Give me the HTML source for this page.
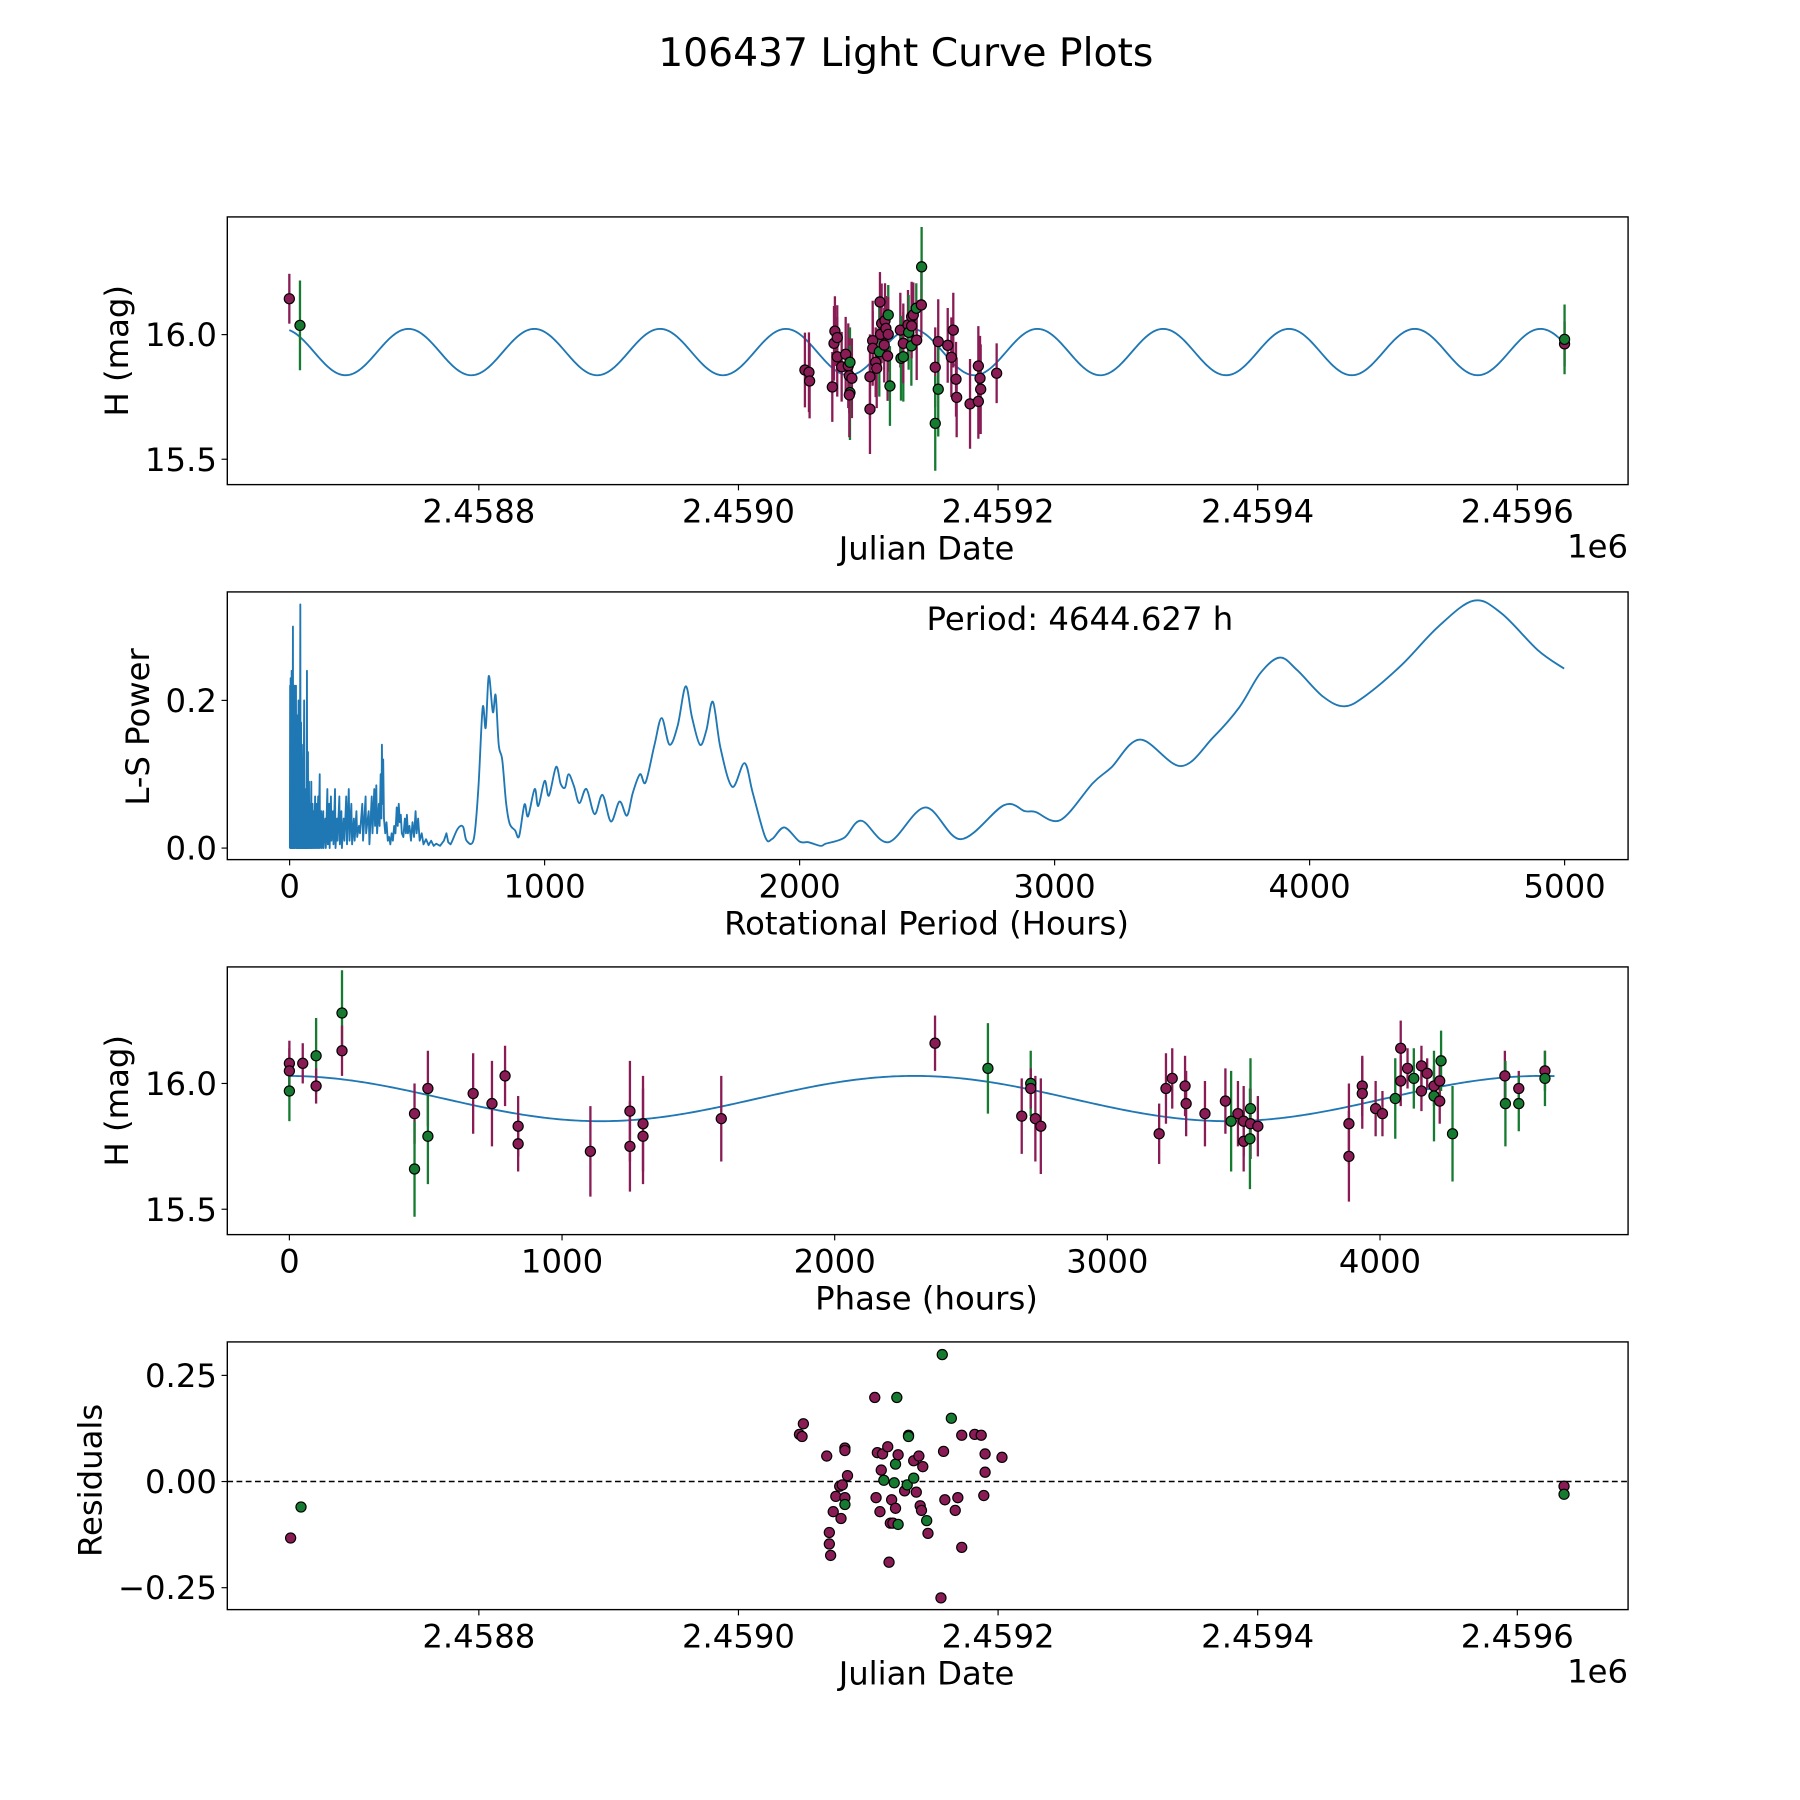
<!DOCTYPE html>
<html><head><meta charset="utf-8"><style>
html,body{margin:0;padding:0;background:#fff;}
svg{display:block;font-family:"DejaVu Sans","Liberation Sans",sans-serif;}
</style></head><body>
<svg id="fig" width="1800" height="1800" viewBox="0 0 1560 1560" xmlns="http://www.w3.org/2000/svg">
<rect x="0" y="0" width="1560" height="1560" fill="#fff"/>
<text x="785" y="57" font-size="34" text-anchor="middle">106437 Light Curve Plots</text>
</svg>
<script>
// ---------- DATA ----------
const lcJd = [-346,-337.8,51.2,54.3,54.8,72.3,74.3,73.6,76.1,76.1,79.5,82.6,84.6,85.9,85.4,87.4,85.9,85.4,101.3,101.3,103.4,103.4,105.7,106.5,109.0,108.5,110.3,109.5,112.9,113.6,112.3,115.4,115.4,114.9,116.7,124.7,125.2,127.0,127.0,130.6,131.1,133.2,133.4,133.4,134.7,137.0,137.3,140.9,141.1,151.6,153.9,153.9,151.6,161.2,164.0,165.5,167.6,168.1,178.4,184.8,186.1,186.6,184.8,198.9,636.4,636.4];
const lcMag = [16.144,16.037,15.858,15.849,15.814,15.790,16.014,15.965,15.988,15.911,15.871,15.921,15.875,15.889,15.835,15.825,15.767,15.758,15.831,15.701,15.976,15.945,15.889,15.865,16.131,15.931,16.045,16.001,16.056,16.025,15.958,16.079,16.001,15.914,15.794,16.018,15.905,15.911,15.965,16.039,16.009,15.955,16.072,16.035,16.079,16.106,15.978,16.119,16.272,15.869,15.972,15.781,15.644,15.957,15.909,16.018,15.821,15.748,15.722,15.874,15.825,15.781,15.732,15.845,15.963,15.981];
const lcErr = [0.10,0.18,0.15,0.16,0.15,0.14,0.14,0.15,0.13,0.16,0.14,0.15,0.17,0.14,0.15,0.16,0.19,0.17,0.17,0.18,0.16,0.15,0.14,0.16,0.12,0.18,0.16,0.14,0.15,0.13,0.15,0.12,0.15,0.18,0.16,0.15,0.17,0.18,0.16,0.14,0.15,0.16,0.14,0.13,0.13,0.10,0.16,0.13,0.16,0.16,0.17,0.19,0.19,0.15,0.16,0.15,0.15,0.16,0.18,0.16,0.17,0.18,0.15,0.12,0.09,0.14];
const lcBand = ['m','g','m','m','m','m','m','m','m','m','m','m','m','g','m','m','g','m','m','m','m','m','m','m','m','g','m','m','m','m','m','g','m','m','g','m','g','g','m','m','g','g','m','m','m','g','m','m','g','m','m','g','g','m','m','m','m','m','m','m','m','m','m','m','m','g'];

const phPhase = [0,0,0,49,98,98,193,193,459,459,508,508,674,743,791,839,839,1104,1249,1249,1297,1297,1584,2368,2562,2719,2719,2686,2736,2756,3190,3215,3238,3285,3289,3358,3433,3454,3479,3500,3500,3525,3525,3523,3552,3886,3886,3935,3935,3984,4009,4056,4076,4076,4101,4124,4152,4152,4173,4198,4198,4219,4219,4224,4266,4458,4460,4509,4509,4605,4605];
const phMag = [16.08,16.05,15.97,16.08,16.11,15.99,16.28,16.13,15.88,15.66,15.98,15.79,15.96,15.92,16.03,15.83,15.76,15.73,15.89,15.75,15.84,15.79,15.86,16.16,16.06,16.0,15.98,15.87,15.86,15.83,15.80,15.98,16.02,15.99,15.92,15.88,15.93,15.85,15.88,15.85,15.77,15.90,15.84,15.78,15.83,15.84,15.71,15.99,15.96,15.90,15.88,15.94,16.14,16.01,16.06,16.02,16.07,15.97,16.04,15.99,15.95,16.01,15.93,16.09,15.80,16.03,15.92,15.98,15.92,16.05,16.02];
const phErr = [0.09,0.09,0.12,0.08,0.15,0.07,0.17,0.10,0.12,0.19,0.15,0.19,0.16,0.17,0.12,0.12,0.11,0.18,0.20,0.18,0.19,0.19,0.17,0.11,0.18,0.13,0.08,0.15,0.17,0.19,0.12,0.14,0.12,0.12,0.13,0.13,0.13,0.20,0.13,0.14,0.12,0.20,0.14,0.20,0.12,0.16,0.18,0.12,0.14,0.11,0.09,0.16,0.11,0.10,0.08,0.12,0.08,0.08,0.06,0.08,0.18,0.08,0.09,0.12,0.19,0.10,0.17,0.07,0.11,0.08,0.11];
const phBand = ['m','m','g','m','g','m','g','m','m','g','m','g','m','m','m','m','m','m','m','m','m','m','m','m','g','g','m','m','m','m','m','m','m','m','m','m','m','g','m','m','m','g','m','g','m','m','m','m','m','m','m','g','m','m','m','g','m','m','m','m','g','m','m','g','g','m','g','m','g','m','g'];

const resJd = [-345,-337,47,49,50,68,70,70,71,73,75,78,79,80,82,82,82,82,84,105,106,107,109,110,111,112,115,116,117,118,119,120,121,121,123,122,123,128,130,131,131,135,135,137,139,140,141,142,145,146,156,157,158,159,164,167,169,172,172,182,187,189,190,190,203,636,636];
const resVal = [-0.133,-0.060,0.111,0.106,0.136,0.060,-0.120,-0.147,-0.174,-0.071,-0.035,-0.011,-0.087,-0.008,0.079,0.073,-0.038,-0.054,0.014,0.198,-0.038,0.068,-0.071,0.027,0.065,0.003,0.082,-0.190,-0.098,-0.043,-0.098,-0.003,0.041,-0.063,0.063,0.198,-0.101,-0.022,-0.008,0.109,0.106,0.049,0.008,-0.025,0.060,-0.057,-0.068,0.035,-0.092,-0.122,-0.274,0.299,0.071,-0.043,0.149,-0.068,-0.038,-0.155,0.109,0.111,0.109,-0.033,0.065,0.022,0.057,-0.011,-0.030];
const resBand = ['m','g','m','m','m','m','m','m','m','m','m','m','m','m','m','m','m','g','m','m','m','m','m','m','m','g','m','m','m','m','m','g','g','m','m','g','g','m','g','m','g','m','g','m','m','m','m','m','g','m','m','g','m','m','g','m','m','m','m','m','m','m','m','m','m','m','g'];

const pgPeriod = [1,2,3,4,5,6,7,8,9,10,11,13,14,16,17,19,20,22,23,25,26,28,29,31,32,35,36,39,40,42,43,45,46,49,50,53,54,57,58,61,62,65,66,68,69,72,73,76,77,81,82,85,86,90,91,95,96,100,101,106,107,112,113,118,119,124,126,132,133,140,142,148,150,155,157,162,164,170,172,178,180,186,188,195,197,203,205,212,215,222,225,232,235,242,245,252,255,262,265,272,276,285,288,298,300,310,313,322,325,332,335,340,343,350,353,357,360,362,364,367,370,375,380,385,390,395,400,405,410,415,420,424,428,432,436,440,446,452,456,460,464,470,476,482,488,494,498,504,510,518,525,535,545,555,565,575,590,605,615,622,631,659,680,694,722,740,757,769,781,797,808,820,834,849,863,884,900,921,935,961,975,1000,1017,1045,1063,1080,1094,1115,1136,1164,1196,1227,1260,1294,1323,1346,1374,1396,1431,1459,1490,1522,1553,1578,1609,1634,1660,1690,1736,1784,1816,1865,1893,1940,1999,2034,2083,2103,2175,2242,2349,2493,2632,2801,2883,2924,3023,3150,3222,3335,3495,3622,3725,3807,3883,3951,4053,4136,4218,4361,4505,4643,4752,4895,4998];
const pgPower = [0.0,0.22,0.0,0.23,0.0,0.21,0.0,0.24,0.01,0.16,0.0,0.30,0.0,0.20,0.0,0.22,0.0,0.15,0.01,0.22,0.0,0.18,0.0,0.12,0.0,0.20,0.0,0.10,0.0,0.33,0.0,0.17,0.0,0.12,0.0,0.14,0.0,0.20,0.0,0.08,0.0,0.08,0.0,0.24,0.0,0.13,0.0,0.09,0.0,0.06,0.0,0.09,0.0,0.06,0.0,0.05,0.0,0.07,0.0,0.06,0.0,0.07,0.0,0.10,0.0,0.05,0.0,0.05,0.0,0.04,0.0,0.08,0.005,0.06,0.0,0.07,0.01,0.05,0.005,0.08,0.0,0.04,0.01,0.07,0.005,0.05,0.0,0.04,0.01,0.07,0.005,0.08,0.01,0.06,0.005,0.04,0.01,0.05,0.015,0.03,0.02,0.06,0.01,0.07,0.02,0.05,0.005,0.07,0.02,0.08,0.03,0.085,0.02,0.06,0.03,0.10,0.04,0.14,0.06,0.12,0.04,0.02,0.035,0.01,0.015,0.005,0.02,0.01,0.03,0.02,0.055,0.03,0.06,0.035,0.045,0.02,0.015,0.04,0.02,0.045,0.02,0.03,0.01,0.035,0.015,0.05,0.02,0.04,0.01,0.02,0.005,0.012,0.004,0.01,0.003,0.006,0.003,0.01,0.02,0.008,0.005,0.026,0.029,0.01,0.012,0.08,0.19,0.163,0.233,0.184,0.207,0.14,0.119,0.061,0.033,0.024,0.016,0.059,0.043,0.08,0.057,0.091,0.071,0.11,0.087,0.082,0.10,0.084,0.061,0.08,0.046,0.072,0.036,0.063,0.044,0.075,0.10,0.089,0.14,0.176,0.14,0.166,0.219,0.177,0.14,0.159,0.198,0.135,0.083,0.115,0.075,0.015,0.0125,0.028,0.009,0.008,0.003,0.006,0.014,0.037,0.008,0.055,0.012,0.058,0.05,0.049,0.038,0.088,0.109,0.147,0.111,0.15,0.191,0.237,0.258,0.241,0.205,0.192,0.206,0.248,0.300,0.335,0.318,0.268,0.243];

const jdTicks = [2458800,2459000,2459200,2459400,2459600];
const jdTickLabels = ['2.4588','2.4590','2.4592','2.4594','2.4596'];
const magTicks = [16.0,15.5];
const magTickLabels = ['16.0','15.5'];
const perTicks = [0,1000,2000,3000,4000,5000];
const powTicks = [0.0,0.2];
const powTickLabels = ['0.0','0.2'];
const phTicks = [0,1000,2000,3000,4000];
const resTicks = [0.25,0.0,-0.25];
const resTickLabels = ['0.25','0.00','\u22120.25'];

// ---------- DRAW ----------
const NS='http://www.w3.org/2000/svg';
const svg=document.getElementById('fig');
const COL={m:'#8a1c55',g:'#167a30'};
const FS=28;
function mk(tag,attrs,parent){const e=document.createElementNS(NS,tag);for(const k in attrs)e.setAttribute(k,attrs[k]);(parent||svg).appendChild(e);return e;}
const L=197,R=1411;
function lin(d0,d1,p0,p1){return v=>p0+(v-d0)*(p1-p0)/(d1-d0);}
const xJd=lin(2459000,2459200,640,865);

function frame(top,name){
  const g=mk('g',{});
  
  
  const r=mk('rect',{x:L,y:top,width:R-L,height:232,fill:'none',stroke:'#000','stroke-width':1.2},g);
  
  
  return g;
}
function xticks(g,ticks,labels,sx,bottom,name){
  ticks.forEach((t,i)=>{
    const x=sx(t);
    mk('line',{x1:x,x2:x,y1:bottom,y2:bottom+5,stroke:'#000','stroke-width':1},g);
    const tx=mk('text',{x:x,y:bottom+33,'font-size':FS,'text-anchor':'middle'},g);
    tx.textContent=labels[i];
    
    
  });
}
function yticks(g,ticks,labels,sy,name){
  ticks.forEach((t,i)=>{
    const y=sy(t);
    mk('line',{x1:L-5,x2:L,y1:y,y2:y,stroke:'#000','stroke-width':1},g);
    const tx=mk('text',{x:L-9,y:y+10,'font-size':FS,'text-anchor':'end'},g);
    tx.textContent=labels[i];
    
    
  });
}
function label(g,txt,x,y,rot,name,anchor){
  const t=mk('text',{x:x,y:y,'font-size':FS,'text-anchor':anchor||'middle'},g);
  if(rot)t.setAttribute('transform','rotate(-90 '+x+' '+y+')');
  t.textContent=txt;
  
  
}
function pts(g,xs,ys,errs,bands,sx,sy,name){
  if(errs) xs.forEach((v,i)=>{
    const x=sx(v);
    const eb=mk('line',{x1:x,x2:x,y1:sy(ys[i]+errs[i]),y2:sy(ys[i]-errs[i]),stroke:COL[bands[i]],'stroke-width':2},g);
    
    
  });
  xs.forEach((v,i)=>{
    const c=mk('circle',{cx:sx(v),cy:sy(ys[i]),r:4.4,fill:COL[bands[i]],stroke:'#000','stroke-width':1},g);
    
    
  });
}
function curve(g,xs,ys,sx,sy,name,smoothFrom){
  const P=xs.map((v,i)=>[sx(v),sy(ys[i])]);
  let d='M'+P[0][0].toFixed(2)+' '+P[0][1].toFixed(2);
  for(let i=1;i<P.length;i++){
    if(smoothFrom!==undefined && i-1>=smoothFrom){
      const p0=P[Math.max(i-2,0)],p1=P[i-1],p2=P[i],p3=P[Math.min(i+1,P.length-1)];
      const c1=[p1[0]+(p2[0]-p0[0])/6,p1[1]+(p2[1]-p0[1])/6];
      const c2=[p2[0]-(p3[0]-p1[0])/6,p2[1]-(p3[1]-p1[1])/6];
      d+=' C'+c1[0].toFixed(2)+' '+c1[1].toFixed(2)+' '+c2[0].toFixed(2)+' '+c2[1].toFixed(2)+' '+p2[0].toFixed(2)+' '+p2[1].toFixed(2);
    } else d+=' L'+P[i][0].toFixed(2)+' '+P[i][1].toFixed(2);
  }
  const p=mk('path',{d:d,fill:'none',stroke:'#1f77b4','stroke-width':1.6,'stroke-linejoin':'round'},g);
  
  
}

// Panel 1
(function(){
  const g=frame(188,'light-curve-panel');
  const sy=lin(16.0,15.5,290,398);
  const sx=d=>xJd(2459000+d);
  const mx=[],my=[];
  for(let d=-346;d<=636.5;d+=1){mx.push(d);my.push(15.93+0.093*Math.cos(2*Math.PI*(d-(-254.2))/96.9));}
  curve(g,mx,my,sx,sy,'model-curve');
  pts(g,lcJd,lcMag,lcErr,lcBand,sx,sy,'observation');
  xticks(g,jdTicks,jdTickLabels,xJd,420,'x-axis');
  yticks(g,magTicks,magTickLabels,sy,'y-axis');
  label(g,'Julian Date',803,485,false,'x-axis-title');
  label(g,'1e6',1411,483,false,'x-axis-offset','end');
  label(g,'H (mag)',111,304,true,'y-axis-title');
})();

// Panel 2
(function(){
  const g=frame(513,'periodogram-panel');
  const sx=lin(0,5000,251,1356), sy=lin(0,0.2,735,607);
  curve(g,pgPeriod,pgPower,sx,sy,'periodogram-line',pgPeriod.indexOf(631));
  xticks(g,perTicks,perTicks.map(String),sx,745,'x-axis');
  yticks(g,powTicks,powTickLabels,sy,'y-axis');
  label(g,'Rotational Period (Hours)',803,810,false,'x-axis-title');
  label(g,'L-S Power',129,630,true,'y-axis-title');
  label(g,'Period: 4644.627 h',803,546,false,'period-annotation','start');
})();

// Panel 3
(function(){
  const g=frame(838,'phase-panel');
  const sx=lin(0,1000,250.8,487.1), sy=lin(16.0,15.5,939,1048);
  const mx=[],my=[];
  for(let p=0;p<=4640;p+=10){mx.push(p);my.push(15.94+0.09*Math.cos(2*Math.PI*(p+10)/2302));}
  curve(g,mx,my,sx,sy,'phase-model-curve');
  pts(g,phPhase,phMag,phErr,phBand,sx,sy,'phased-observation');
  xticks(g,phTicks,phTicks.map(String),sx,1070,'x-axis');
  yticks(g,magTicks,magTickLabels,sy,'y-axis');
  label(g,'Phase (hours)',803,1135,false,'x-axis-title');
  label(g,'H (mag)',111,954,true,'y-axis-title');
})();

// Panel 4
(function(){
  const g=frame(1163,'residuals-panel');
  const sx=d=>xJd(2459000+d), sy=lin(0,0.25,1284,1192);
  const dl=mk('line',{x1:L,x2:R,y1:sy(0),y2:sy(0),stroke:'#000','stroke-width':1.3,'stroke-dasharray':'5,3'},g);
  
  
  pts(g,resJd,resVal,null,resBand,sx,sy,'residual');
  xticks(g,jdTicks,jdTickLabels,xJd,1395,'x-axis');
  yticks(g,resTicks,resTickLabels,sy,'y-axis');
  label(g,'Julian Date',803,1460,false,'x-axis-title');
  label(g,'1e6',1411,1458,false,'x-axis-offset','end');
  label(g,'Residuals',88,1283,true,'y-axis-title');
})();
</script>
</body></html>
